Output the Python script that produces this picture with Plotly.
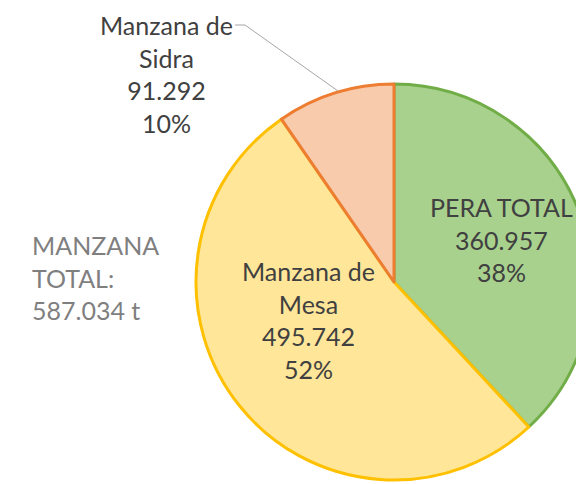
import plotly.graph_objects as go

labels = ["PERA TOTAL", "Manzana de Mesa", "Manzana de Sidra"]
label_lines = ["PERA TOTAL", "Manzana de<br>Mesa", "Manzana de<br>Sidra"]
values = [360957, 495742, 91292]
manzana_total_label = "MANZANA<br>TOTAL:"
manzana_total = 587034

fill_colors = ["#A9D18E", "#FFE699", "#F8CBAD"]
line_colors = ["#70AD47", "#FFC000", "#ED7D31"]

W, H = 584, 484
FONT = "Lato"
FS = 25

def fmt(v):
    return f"{v:,}".replace(",", ".")

total = sum(values)
pcts = [round(100 * v / total) for v in values]

R = 198
CX, CY = 386, 274
fig = go.Figure(go.Pie(
    labels=labels,
    values=values,
    sort=False,
    direction="clockwise",
    rotation=0,
    textinfo="none",
    hoverinfo="label+value+percent",
    marker=dict(colors=fill_colors, line=dict(color=line_colors, width=3)),
    domain=dict(x=[(CX - R) / W, min(1.0, (CX + R) / W)],
                y=[1 - (CY + R) / H, 1 - (CY - R) / H]),
    showlegend=False,
))

def px(x, y):
    return x / W, 1 - y / H

# label anchors in figure pixels: (x, y, yanchor)
anchors = [(493, 231, "middle"), (300, 312, "middle"), (158, 0, "top")]
annos = []
for lab, v, p, (cx, cy, ya) in zip(label_lines, values, pcts, anchors):
    ax_, ay_ = px(cx, cy)
    annos.append(dict(
        text=f"{lab}<br>{fmt(v)}<br>{p}%",
        x=ax_, y=ay_, xref="paper", yref="paper",
        xanchor="center", yanchor=ya, align="center",
        showarrow=False,
        font=dict(family=FONT, size=FS, color="#404040"),
    ))

tx, ty = px(22, 269)
annos.append(dict(
    text=f"{manzana_total_label}<br>{fmt(manzana_total)} t",
    x=tx, y=ty, xref="paper", yref="paper",
    xanchor="left", yanchor="middle", align="left",
    showarrow=False,
    font=dict(family=FONT, size=FS, color="#7F7F7F"),
))

p0 = px(227, 17)
p1 = px(237, 17)
p2 = px(330, 83)
fig.add_shape(
    type="path", xref="paper", yref="paper",
    path=f"M {p0[0]} {p0[1]} L {p1[0]} {p1[1]} L {p2[0]} {p2[1]}",
    line=dict(color="#A6A6A6", width=1),
)

fig.update_layout(
    width=W, height=H,
    margin=dict(l=0, r=0, t=0, b=0),
    paper_bgcolor="white",
    plot_bgcolor="white",
    annotations=annos,
)

fig.write_html("out.html")
